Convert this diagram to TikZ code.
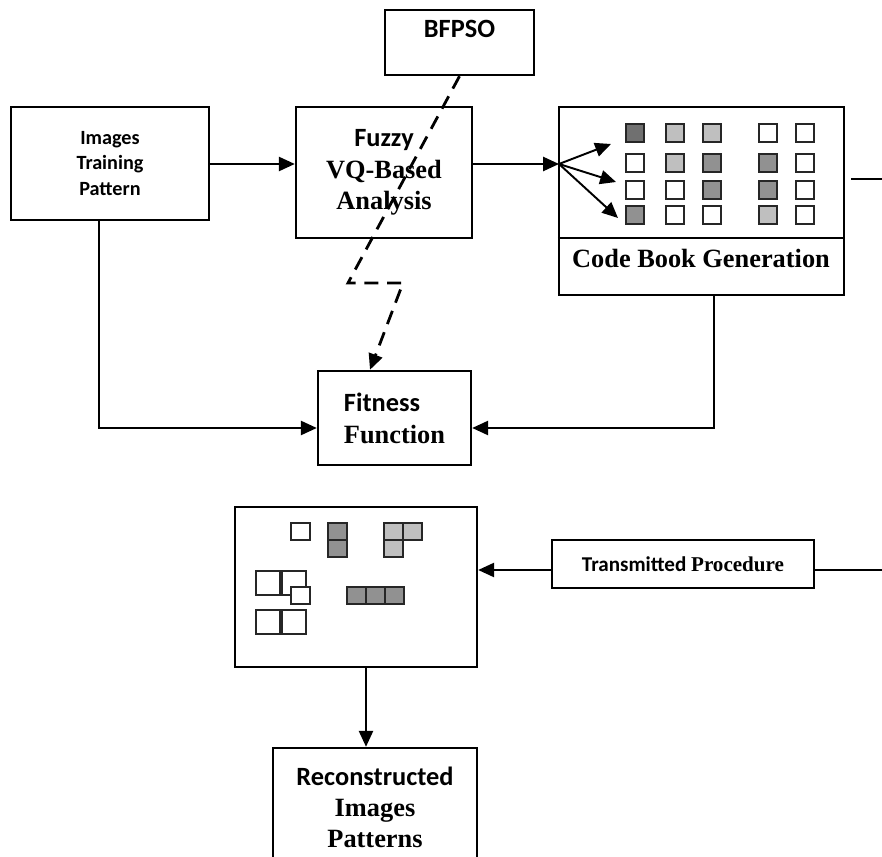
\documentclass[tikz,border=0pt]{standalone}
\usepackage{fontspec}
\newfontfamily\calfont{Carlito}
\newfontfamily\timfont{Liberation Serif}
\newcommand{\cb}{\calfont\bfseries}
\newcommand{\tb}{\timfont\bfseries}
\newcommand{\bigtxt}{\fontsize{15}{17.9}\selectfont}
\usetikzlibrary{arrows.meta}
\colorlet{dk}{black!56}
\colorlet{md}{black!43}
\colorlet{lt}{black!25}
\tikzset{
  blk/.style={draw, line width=1.4pt, inner sep=0pt, align=center},
  conn/.style={line width=1.1pt, -{Triangle[length=9pt,width=8pt]}},
  cell/.style={draw=black!85, line width=1.2pt},
}
\begin{document}
\begin{tikzpicture}[x=0.02cm, y=-0.02cm]
  \useasboundingbox (0,0) rectangle (882,857);
  \clip (0,0) rectangle (882,857);
  % blocks
  \node[blk, minimum width=2.98cm, minimum height=1.3cm, text height=10pt, text depth=15.4pt] (bfpso) at (459.5,42.5) {\bigtxt\cb BFPSO};
  \node[blk, minimum width=3.96cm, minimum height=2.26cm, font=\fontsize{11.5}{14.7}\selectfont] (imgs) at (110,163.5) {\cb Images\\\cb Training\\\cb Pattern};
  \node[blk, minimum width=3.52cm, minimum height=2.62cm, font=\bigtxt] (fuzzy) at (384,172.5) {\cb Fuzzy\\\tb VQ-Based\\\tb Analysis};
  \node[blk, minimum width=5.7cm, minimum height=3.76cm] (codebook) at (701.5,201) {};
  \node[font=\bigtxt] (cbtitle) at (701,258) {\tb Code Book Generation};
  \node[blk, minimum width=3.06cm, minimum height=1.88cm, align=left, font=\fontsize{15}{18.2}\selectfont] (fitness) at (394.5,418) {\cb Fitness\\\tb Function};
  \node[blk, minimum width=4.84cm, minimum height=3.2cm] (recon) at (356,587) {};
  \node[blk, minimum width=5.24cm, minimum height=0.96cm, font=\fontsize{12}{14}\selectfont] (trans) at (683,564) {\cb Transmitted \tb Procedure};
  \node[blk, minimum width=4.08cm, minimum height=2.36cm, font=\fontsize{15}{17.6}\selectfont] (rebuilt) at (375,807) {\cb Reconstructed\\\tb Images\\\tb Patterns};
  \draw[line width=1.4pt] (codebook.west |- 0,238) -- (codebook.east |- 0,238);
  % code book cells
  \foreach \r/\y in {1/133,2/163,3/190,4/215}
    \foreach \c/\x in {1/635,2/675,3/712,4/768,5/805} {
      \pgfmathsetmacro\idx{int((\r-1)*5+\c)}
      \pgfmathparse{{"dk","lt","lt","white","white","white","lt","md","md","white","white","white","md","md","white","md","white","white","lt","white"}[\idx-1]}
      \edef\shade{\pgfmathresult}
      \filldraw[cell, fill=\shade] (\x-9,\y-9) rectangle (\x+9,\y+9);
    }
  % received blocks
  \foreach \a/\b/\shade in {291/523/white, 328/523/md, 328/540/md, 384/523/lt, 403/523/lt, 384/540/lt, 347/587/md, 366/587/md, 385/587/md}
    \filldraw[cell, fill=\shade] (\a,\b) rectangle ++(19,17);
  \foreach \a/\b in {256/571, 282/571, 256/610, 282/610}
    \filldraw[cell, fill=white] (\a,\b) rectangle ++(24,24);
  \filldraw[cell, fill=white] (291,587) rectangle ++(19,17);
  % connectors
  \coordinate (fan) at (559,164);
  \coordinate (t1) at (611,144);
  \coordinate (t2) at (616,182);
  \coordinate (t3) at (618,218);
  \coordinate (cbgap) at (851,179);
  \coordinate (cbout) at (882,179);
  \coordinate (lcorner) at (99,428);
  \coordinate (rcorner) at (714,428);
  \coordinate (d1) at (348,283);
  \coordinate (d2) at (403,283);
  \coordinate (d3) at (370,0);
  \coordinate (tr) at (882,570);
  \coordinate (down) at (366,0);
  \draw[conn] (imgs.east |- fan) -- (fuzzy.west |- fan);
  \draw[conn] (fuzzy.east |- fan) -- (fan);
  \foreach \t in {t1,t2,t3}
    \draw[conn] (fan) -- (\t);
  \draw[line width=1.1pt] (cbgap) -- (cbout);
  \draw[conn] (lcorner |- imgs.south) -- (lcorner) -- (fitness.west |- lcorner);
  \draw[conn] (rcorner |- codebook.south) -- (rcorner) -- (fitness.east |- rcorner);
  \draw[conn, line width=1.6pt, dash pattern=on 8pt off 5pt] (bfpso.south) -- (d1) -- (d2) -- (fitness.north -| d3);
  \draw[line width=1.1pt] (trans.east |- tr) -- (tr);
  \draw[conn] (trans.west |- tr) -- (recon.east |- tr);
  \draw[conn] (recon.south -| down) -- (rebuilt.north -| down);
\end{tikzpicture}
\end{document}
